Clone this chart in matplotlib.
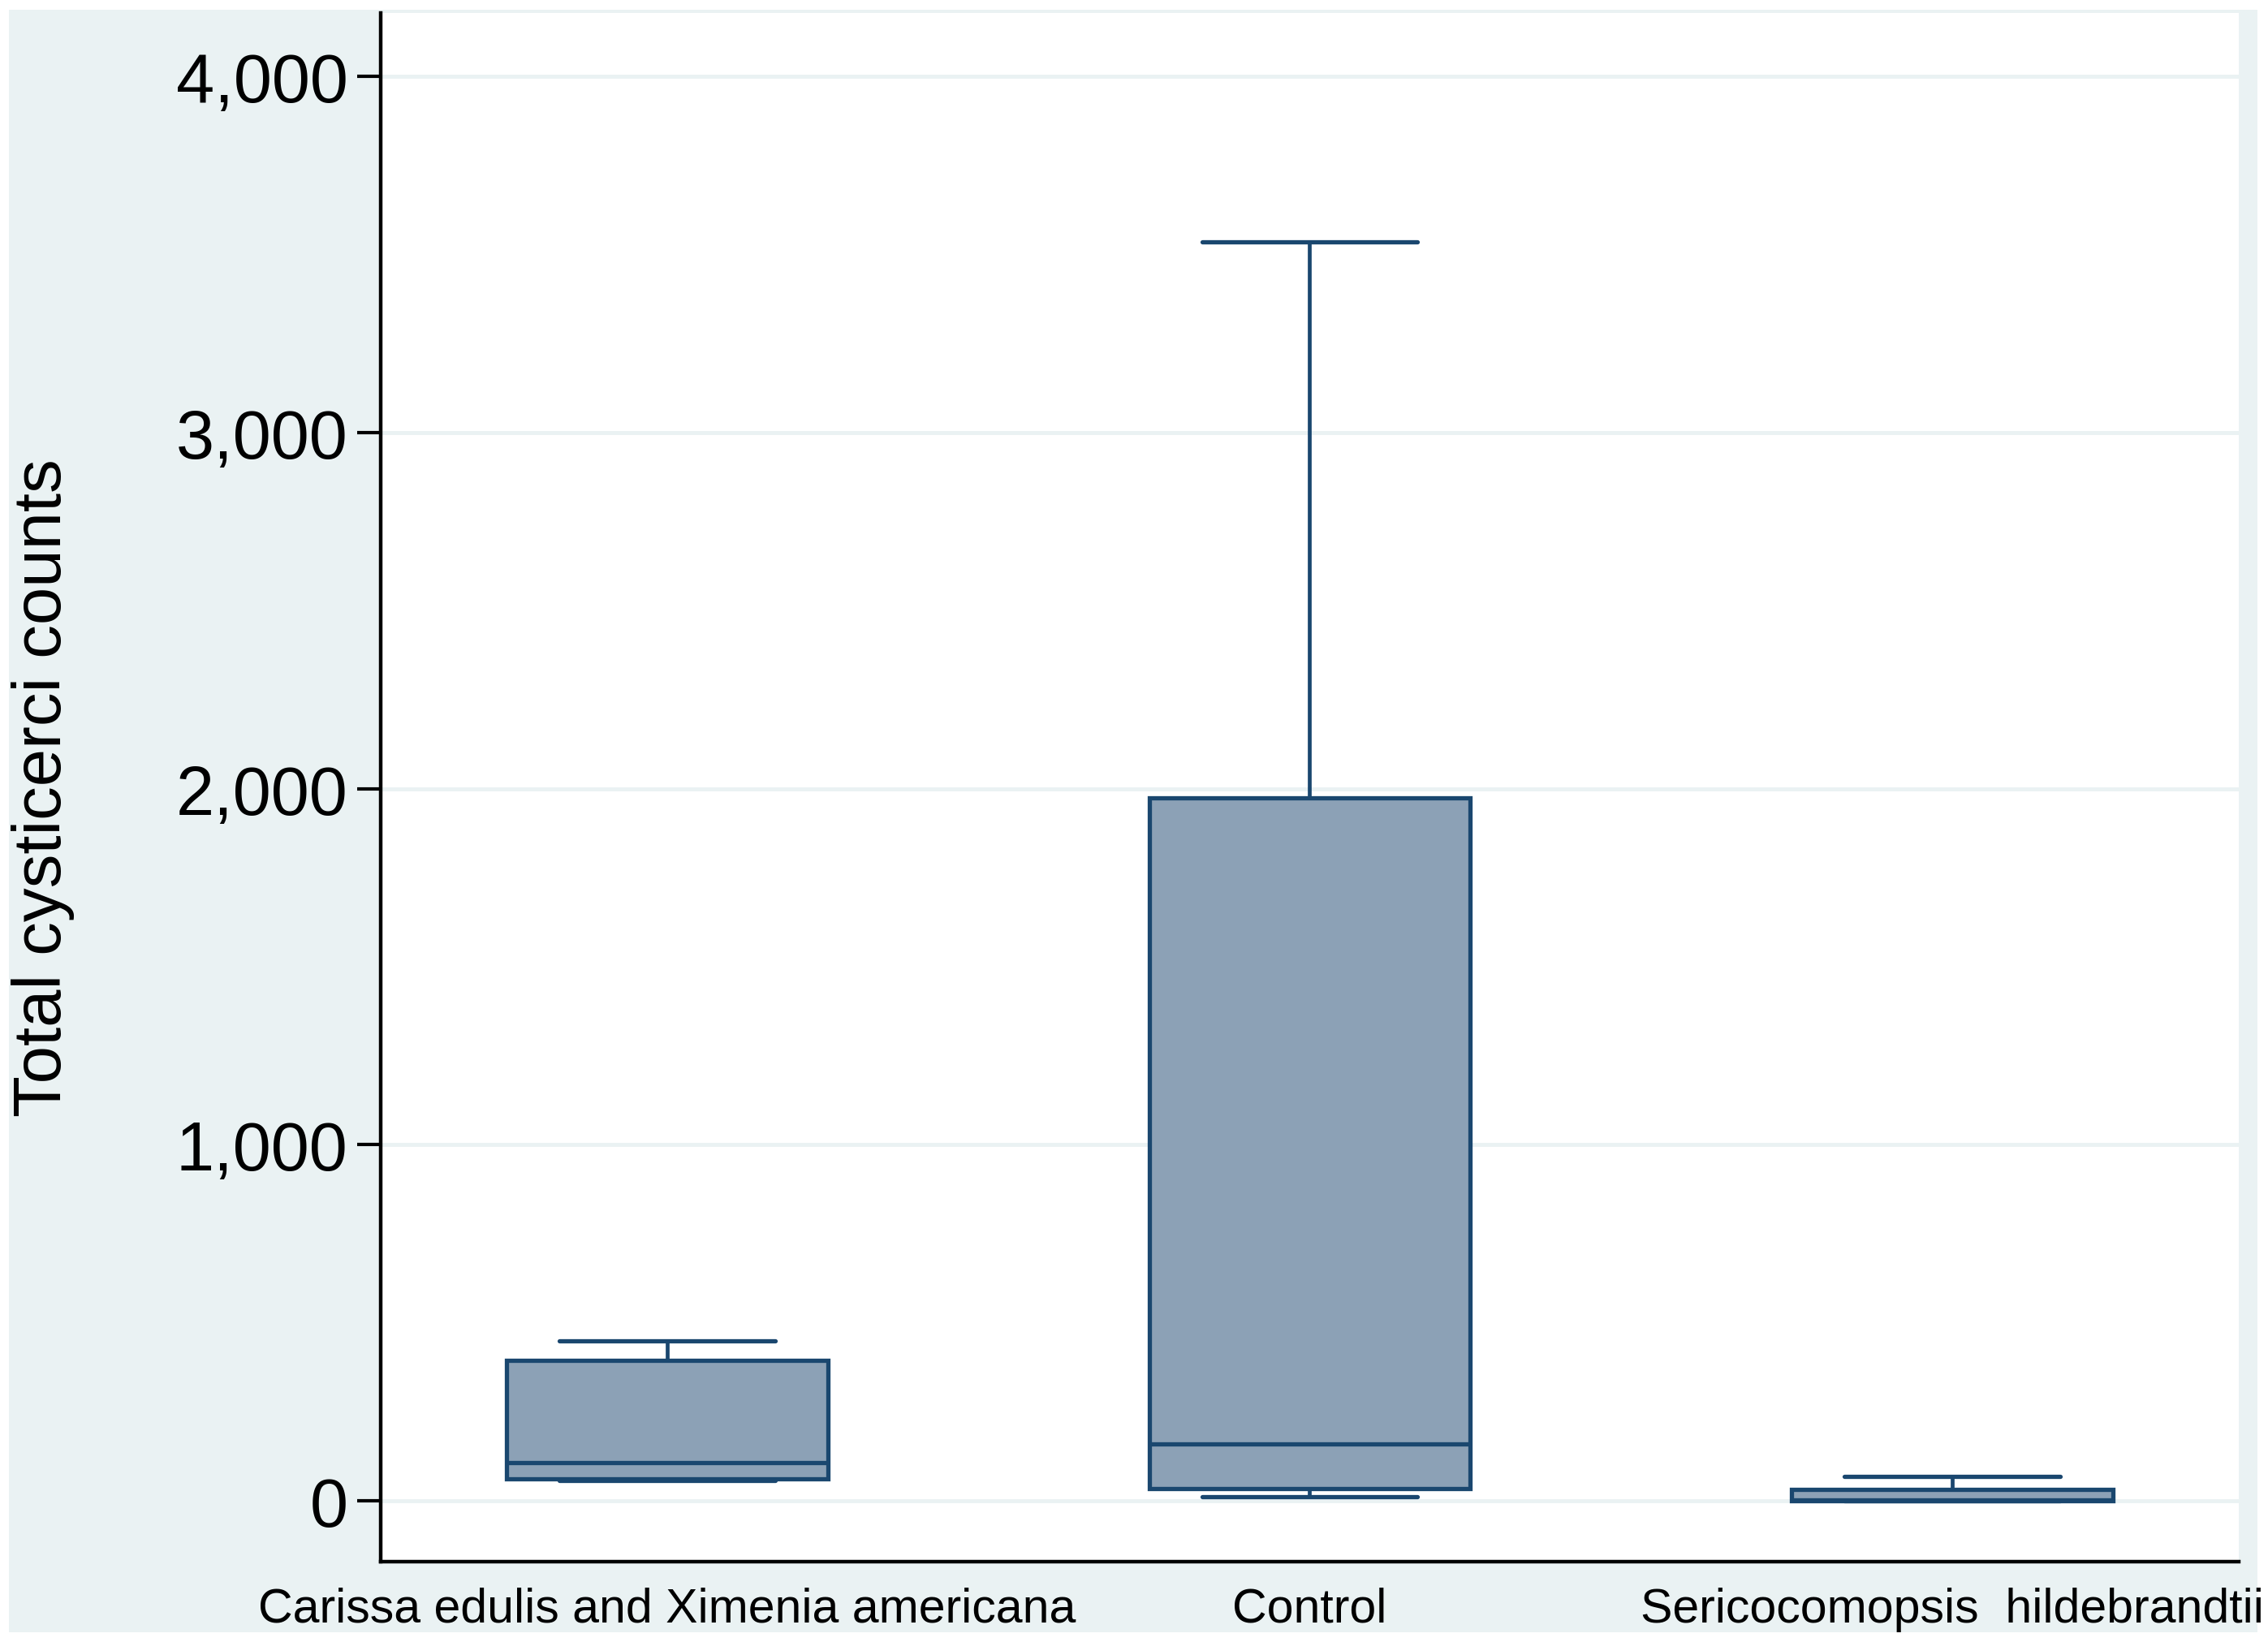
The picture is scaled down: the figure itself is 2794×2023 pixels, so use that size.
import matplotlib
matplotlib.use("Agg")
import matplotlib.pyplot as plt
from matplotlib.patches import Rectangle

plt.rcParams['font.family'] = ['Liberation Sans', 'DejaVu Sans']

# values (five-number summaries)
groups = ['Carissa edulis and Ximenia americana', 'Control', 'Sericocomopsis  hildebrandtii']
whislo = [56, 11, 0]
q1 = [62, 34, 0]
med = [106, 160, 3]
q3 = [394, 1975, 33]
whishi = [448, 3535, 68]
yticks = [0, 1000, 2000, 3000, 4000]

navy = '#1a476f'
fill = '#8ca1b6'
bg = '#eaf2f3'

fig = plt.figure(figsize=(27.94, 20.24), dpi=100)
fig.patch.set_facecolor('white')
fig.patches.append(Rectangle((11 / 2794, 1 - 2012 / 2024), 2770 / 2794, 1999 / 2024,
                             transform=fig.transFigure, facecolor=bg, edgecolor='none', zorder=-10))

ax = fig.add_axes([469 / 2794, 1 - 1925 / 2024, 2289 / 2794, 1908 / 2024])
ax.set_facecolor('white')

stats = []
for i, g in enumerate(groups):
    stats.append(dict(label=g, whislo=whislo[i], q1=q1[i], med=med[i], q3=q3[i], whishi=whishi[i], fliers=[]))

ax.bxp(stats, positions=range(len(groups)), widths=0.5, capwidths=0.335,
       patch_artist=True, showfliers=False,
       boxprops=dict(facecolor=fill, edgecolor=navy, linewidth=3.8),
       medianprops=dict(color=navy, linewidth=3.8),
       whiskerprops=dict(color=navy, linewidth=3.4),
       capprops=dict(color=navy, linewidth=3.8, solid_capstyle='round'))

ax.set_xlim(-0.446, 2.446)
ax.set_ylim(-171, 4178)
ax.set_yticks(yticks)
ax.set_yticklabels([f'{v:,}' for v in yticks])
ax.yaxis.grid(True, color=bg, linewidth=3.5)
ax.set_axisbelow(True)

for s in ['top', 'right']:
    ax.spines[s].set_visible(False)
for s in ['left', 'bottom']:
    ax.spines[s].set_linewidth(3.2)
    ax.spines[s].set_color('black')

ax.tick_params(axis='y', labelsize=61, length=21, width=3, pad=8, direction='out')
ax.tick_params(axis='x', labelsize=42.5, length=0, pad=22)
ax.set_ylabel('Total cysticerci counts', fontsize=60, labelpad=90)

fig.savefig('out.png', dpi=100, facecolor=fig.get_facecolor())
